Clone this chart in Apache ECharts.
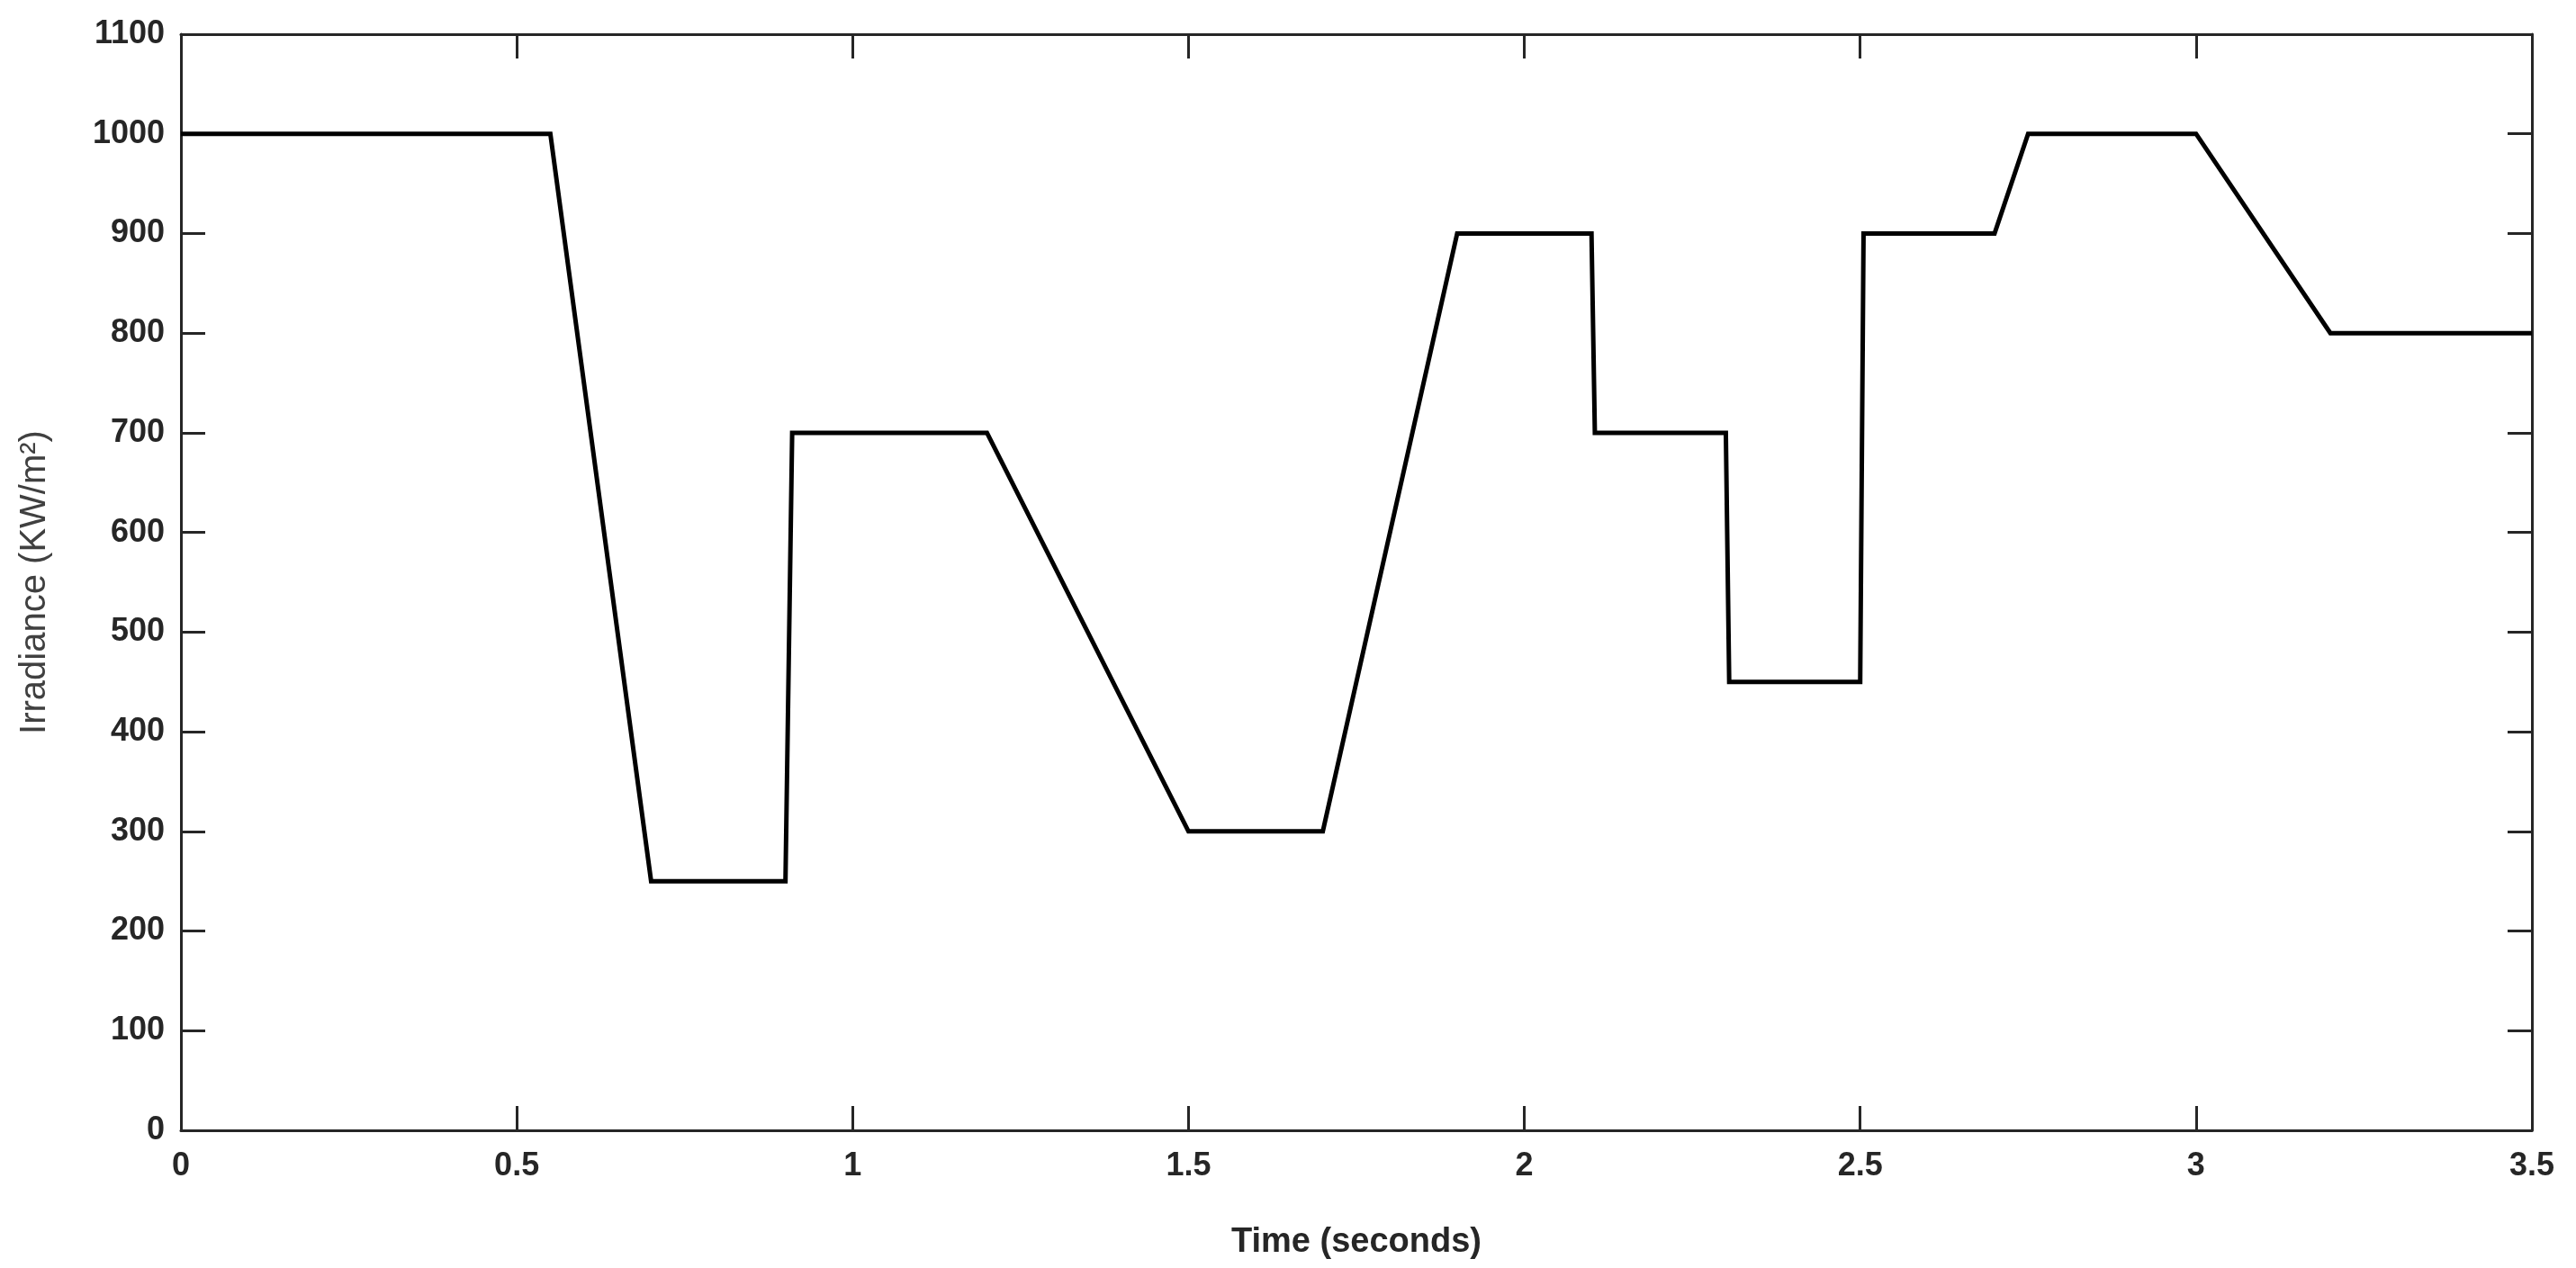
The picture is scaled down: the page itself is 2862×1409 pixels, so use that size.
<!DOCTYPE html>
<html>
<head>
<meta charset="utf-8">
<script src="https://cdn.jsdelivr.net/npm/echarts@6/dist/echarts.min.js"></script>
<style>
html,body{margin:0;padding:0;background:#fff;}
#chart{width:2862px;height:1409px;}
</style>
</head>
<body>
<div id="chart"></div>
<script>
var times = [0, 0.55, 0.70, 0.90, 0.91, 1.20, 1.50, 1.70, 1.90, 2.10, 2.105, 2.30, 2.305, 2.50, 2.505, 2.70, 2.75, 3.00, 3.20, 3.50];
var irradiance = [1000, 1000, 250, 250, 700, 700, 300, 300, 900, 900, 700, 700, 450, 450, 900, 900, 1000, 1000, 800, 800];
var xTicks = ['0', '0.5', '1', '1.5', '2', '2.5', '3', '3.5'];
var yTicks = ['0','100','200','300','400','500','600','700','800','900','1000','1100'];

var pts = times.map(function(t, i){ return [t, irradiance[i]]; });
var axisColor = '#262626';
var font = 'Liberation Sans, Arial, sans-serif';

var chart = echarts.init(document.getElementById('chart'), null, {renderer:'canvas'});
chart.setOption({
  animation: false,
  backgroundColor: '#fff',
  grid: {left: 201, right: 49, top: 38, bottom: 153, containLabel: false},
  xAxis: [{
    type: 'value', min: 0, max: 3.5, interval: 0.5,
    name: 'Time (seconds)', nameLocation: 'middle', nameGap: 106,
    nameTextStyle: {fontFamily: font, fontSize: 38, fontWeight: 'bold', color: axisColor},
    axisLine: {show: true, onZero: false, lineStyle: {color: axisColor, width: 3}},
    axisTick: {show: true, inside: true, length: 27, lineStyle: {color: axisColor, width: 3}},
    axisLabel: {fontFamily: font, fontSize: 36, fontWeight: 'bold', color: axisColor, margin: 22,
      formatter: function(v){ var i = Math.round(v/0.5); return xTicks[i]; }},
    splitLine: {show: false}
  },{
    type: 'value', min: 0, max: 3.5, interval: 0.5, position: 'top',
    axisLine: {show: true, onZero: false, lineStyle: {color: axisColor, width: 3}},
    axisTick: {show: true, inside: true, length: 27, lineStyle: {color: axisColor, width: 3}},
    axisLabel: {show: false}, splitLine: {show: false}
  }],
  yAxis: [{
    type: 'value', min: 0, max: 1100, interval: 100,
    name: 'Irradiance (KW/m²)', nameLocation: 'middle', nameGap: 142,
    nameTextStyle: {fontFamily: font, fontSize: 40, color: '#404040'},
    axisLine: {show: true, onZero: false, lineStyle: {color: axisColor, width: 3}},
    axisTick: {show: true, inside: true, length: 27, lineStyle: {color: axisColor, width: 3}},
    axisLabel: {fontFamily: font, fontSize: 36, fontWeight: 'bold', color: axisColor, margin: 18,
      formatter: function(v){ return yTicks[Math.round(v/100)]; }},
    splitLine: {show: false}
  },{
    type: 'value', min: 0, max: 1100, interval: 100, position: 'right',
    axisLine: {show: true, onZero: false, lineStyle: {color: axisColor, width: 3}},
    axisTick: {show: true, inside: true, length: 27, lineStyle: {color: axisColor, width: 3}},
    axisLabel: {show: false}, splitLine: {show: false}
  }],
  series: [{
    type: 'line', data: pts, xAxisIndex: 0, yAxisIndex: 0,
    showSymbol: false, symbol: 'none',
    lineStyle: {color: '#000', width: 5, join: 'miter'}
  }]
});
</script>
</body>
</html>
